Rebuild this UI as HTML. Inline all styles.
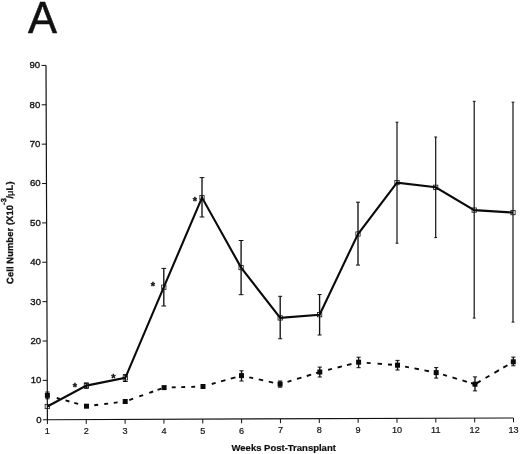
<!DOCTYPE html>
<html><head><meta charset="utf-8"><title>A</title>
<style>html,body{margin:0;padding:0;background:#fff}body{width:520px;height:454px;overflow:hidden;position:relative}</style>
</head><body>
<svg width="520" height="454" viewBox="0 0 520 454" style="position:absolute;left:0;top:0">
<g stroke="#111" fill="none" stroke-linecap="butt">
<path d="M46.00 65.40 L47.40 419.75 L513.50 418.00" stroke-width="1.2" stroke-linejoin="miter"/>
<path d="M42.90 419.77 L47.40 419.75" stroke-width="1"/>
<path d="M42.74 380.40 L47.24 380.38" stroke-width="1"/>
<path d="M42.59 341.03 L47.09 341.01" stroke-width="1"/>
<path d="M42.43 301.65 L46.93 301.63" stroke-width="1"/>
<path d="M42.28 262.28 L46.78 262.26" stroke-width="1"/>
<path d="M42.12 222.91 L46.62 222.89" stroke-width="1"/>
<path d="M41.97 183.54 L46.47 183.52" stroke-width="1"/>
<path d="M41.81 144.16 L46.31 144.14" stroke-width="1"/>
<path d="M41.66 104.79 L46.16 104.77" stroke-width="1"/>
<path d="M41.50 65.42 L46.00 65.40" stroke-width="1"/>
<path d="M47.40 419.75 L47.42 424.05" stroke-width="1"/>
<path d="M86.24 419.60 L86.26 423.90" stroke-width="1"/>
<path d="M125.08 419.46 L125.10 423.76" stroke-width="1"/>
<path d="M163.93 419.31 L163.95 423.61" stroke-width="1"/>
<path d="M202.77 419.17 L202.79 423.47" stroke-width="1"/>
<path d="M241.61 419.02 L241.63 423.32" stroke-width="1"/>
<path d="M280.45 418.88 L280.47 423.18" stroke-width="1"/>
<path d="M319.29 418.73 L319.31 423.03" stroke-width="1"/>
<path d="M358.13 418.58 L358.15 422.88" stroke-width="1"/>
<path d="M396.98 418.44 L397.00 422.74" stroke-width="1"/>
<path d="M435.82 418.29 L435.84 422.59" stroke-width="1"/>
<path d="M474.66 418.15 L474.68 422.45" stroke-width="1"/>
<path d="M513.50 418.00 L513.52 422.30" stroke-width="1"/>
</g>
<path d="M86.40 382.90 L86.40 388.30" stroke="#111" stroke-width="1.35" fill="none"/><path d="M84.00 382.90 L88.80 382.90 M84.00 388.30 L88.80 388.30" stroke="#111" stroke-width="1.0" fill="none"/>
<path d="M125.30 374.60 L125.30 381.50" stroke="#111" stroke-width="1.35" fill="none"/><path d="M122.90 374.60 L127.70 374.60 M122.90 381.50 L127.70 381.50" stroke="#111" stroke-width="1.0" fill="none"/>
<path d="M163.80 268.40 L163.80 306.00" stroke="#111" stroke-width="1.35" fill="none"/><path d="M161.40 268.40 L166.20 268.40 M161.40 306.00 L166.20 306.00" stroke="#111" stroke-width="1.0" fill="none"/>
<path d="M202.00 177.60 L202.00 217.00" stroke="#111" stroke-width="1.35" fill="none"/><path d="M199.60 177.60 L204.40 177.60 M199.60 217.00 L204.40 217.00" stroke="#111" stroke-width="1.0" fill="none"/>
<path d="M241.10 240.50 L241.10 294.70" stroke="#111" stroke-width="1.35" fill="none"/><path d="M238.70 240.50 L243.50 240.50 M238.70 294.70 L243.50 294.70" stroke="#111" stroke-width="1.0" fill="none"/>
<path d="M280.20 296.30 L280.20 338.80" stroke="#111" stroke-width="1.35" fill="none"/><path d="M278.20 296.30 L282.20 296.30 M278.20 338.80 L282.20 338.80" stroke="#111" stroke-width="1.0" fill="none"/>
<path d="M319.60 294.50 L319.60 335.00" stroke="#111" stroke-width="1.35" fill="none"/><path d="M317.60 294.50 L321.60 294.50 M317.60 335.00 L321.60 335.00" stroke="#111" stroke-width="1.0" fill="none"/>
<path d="M358.00 202.20 L358.00 265.10" stroke="#111" stroke-width="1.35" fill="none"/><path d="M356.00 202.20 L360.00 202.20 M356.00 265.10 L360.00 265.10" stroke="#111" stroke-width="1.0" fill="none"/>
<path d="M397.00 122.20 L397.00 243.20" stroke="#111" stroke-width="1.2" fill="none"/><path d="M395.60 122.20 L398.40 122.20 M395.60 243.20 L398.40 243.20" stroke="#111" stroke-width="1.0" fill="none"/>
<path d="M435.70 137.00 L435.70 237.60" stroke="#111" stroke-width="1.2" fill="none"/><path d="M434.30 137.00 L437.10 137.00 M434.30 237.60 L437.10 237.60" stroke="#111" stroke-width="1.0" fill="none"/>
<path d="M474.20 101.30 L474.20 318.10" stroke="#111" stroke-width="1.2" fill="none"/><path d="M472.80 101.30 L475.60 101.30 M472.80 318.10 L475.60 318.10" stroke="#111" stroke-width="1.0" fill="none"/>
<path d="M513.00 102.20 L513.00 322.10" stroke="#111" stroke-width="1.2" fill="none"/><path d="M511.60 102.20 L514.40 102.20 M511.60 322.10 L514.40 322.10" stroke="#111" stroke-width="1.0" fill="none"/>
<path d="M47.40 392.00 L47.40 398.80" stroke="#111" stroke-width="1.35" fill="none"/><path d="M45.30 392.00 L49.50 392.00 M45.30 398.80 L49.50 398.80" stroke="#111" stroke-width="1.0" fill="none"/>
<path d="M241.50 370.80 L241.50 381.00" stroke="#111" stroke-width="1.35" fill="none"/><path d="M239.40 370.80 L243.60 370.80 M239.40 381.00 L243.60 381.00" stroke="#111" stroke-width="1.0" fill="none"/>
<path d="M280.10 381.00 L280.10 387.20" stroke="#111" stroke-width="1.35" fill="none"/><path d="M278.00 381.00 L282.20 381.00 M278.00 387.20 L282.20 387.20" stroke="#111" stroke-width="1.0" fill="none"/>
<path d="M319.80 367.10 L319.80 377.00" stroke="#111" stroke-width="1.35" fill="none"/><path d="M317.70 367.10 L321.90 367.10 M317.70 377.00 L321.90 377.00" stroke="#111" stroke-width="1.0" fill="none"/>
<path d="M358.60 357.20 L358.60 367.70" stroke="#111" stroke-width="1.35" fill="none"/><path d="M356.50 357.20 L360.70 357.20 M356.50 367.70 L360.70 367.70" stroke="#111" stroke-width="1.0" fill="none"/>
<path d="M397.50 360.40 L397.50 370.00" stroke="#111" stroke-width="1.35" fill="none"/><path d="M395.40 360.40 L399.60 360.40 M395.40 370.00 L399.60 370.00" stroke="#111" stroke-width="1.0" fill="none"/>
<path d="M436.20 367.60 L436.20 378.10" stroke="#111" stroke-width="1.35" fill="none"/><path d="M434.10 367.60 L438.30 367.60 M434.10 378.10 L438.30 378.10" stroke="#111" stroke-width="1.0" fill="none"/>
<path d="M475.00 376.90 L475.00 390.90" stroke="#111" stroke-width="1.35" fill="none"/><path d="M472.90 376.90 L477.10 376.90 M472.90 390.90 L477.10 390.90" stroke="#111" stroke-width="1.0" fill="none"/>
<path d="M513.30 357.10 L513.30 365.80" stroke="#111" stroke-width="1.35" fill="none"/><path d="M511.20 357.10 L515.40 357.10 M511.20 365.80 L515.40 365.80" stroke="#111" stroke-width="1.0" fill="none"/>
<polyline fill="none" stroke="#0a0a0a" stroke-width="2.1" stroke-linejoin="miter" points="47.30,406.50 86.40,385.60 125.30,377.90 163.80,287.20 202.00,197.60 241.10,267.60 280.20,317.90 319.60,314.70 358.00,234.00 397.00,182.60 435.70,187.30 474.20,210.10 513.00,212.60"/>
<path fill="none" stroke="#0a0a0a" stroke-width="1.9" d="M56.75 397.98 L59.85 398.84 M65.55 400.41 L69.45 401.49 M74.25 402.82 L78.15 403.89 M94.25 405.26 L98.15 404.79 M104.25 404.04 L108.15 403.57 M113.75 402.89 L117.65 402.42 M129.25 400.05 L133.15 398.66 M139.25 396.48 L143.15 395.09 M149.25 392.91 L153.15 391.51 M157.55 389.94 L161.45 388.55 M171.75 387.38 L175.65 387.27 M181.25 387.12 L185.15 387.00 M191.25 386.83 L195.15 386.72 M211.75 384.02 L215.65 382.92 M221.05 381.39 L225.45 380.14 M230.75 378.64 L235.45 377.31 M249.25 377.31 L253.15 378.17 M258.75 379.40 L263.15 380.37 M268.75 381.60 L273.15 382.57 M287.55 381.83 L291.45 380.64 M296.95 378.96 L301.45 377.59 M306.75 375.98 L311.15 374.64 M316.05 373.14 L319.45 372.11 M328.05 369.92 L331.95 368.93 M337.55 367.52 L341.95 366.41 M346.95 365.14 L351.45 364.01 M366.75 362.83 L370.65 363.13 M377.55 363.66 L381.95 364.00 M388.05 364.47 L391.95 364.77 M405.05 366.64 L408.95 367.39 M414.45 368.44 L418.95 369.30 M424.45 370.35 L428.95 371.21 M443.05 374.65 L446.95 375.81 M452.45 377.46 L456.95 378.80 M462.45 380.45 L466.95 381.79 M471.05 383.02 L474.45 384.04 M475.55 383.88 L480.65 380.90 M485.55 378.03 L489.45 375.75 M494.45 372.82 L498.95 370.19 M503.25 367.68 L507.45 365.22"/>
<rect x="45.15" y="404.35" width="4.3" height="4.3" fill="none" stroke="#111" stroke-width="0.8"/>
<rect x="84.25" y="383.45" width="4.3" height="4.3" fill="none" stroke="#111" stroke-width="0.8"/>
<rect x="123.15" y="375.75" width="4.3" height="4.3" fill="none" stroke="#111" stroke-width="0.8"/>
<rect x="161.65" y="285.05" width="4.3" height="4.3" fill="none" stroke="#111" stroke-width="0.8"/>
<rect x="199.85" y="195.45" width="4.3" height="4.3" fill="none" stroke="#111" stroke-width="0.8"/>
<rect x="238.95" y="265.45" width="4.3" height="4.3" fill="none" stroke="#111" stroke-width="0.8"/>
<rect x="278.05" y="315.75" width="4.3" height="4.3" fill="none" stroke="#111" stroke-width="0.8"/>
<rect x="317.45" y="312.55" width="4.3" height="4.3" fill="none" stroke="#111" stroke-width="0.8"/>
<rect x="355.85" y="231.85" width="4.3" height="4.3" fill="none" stroke="#111" stroke-width="0.8"/>
<rect x="394.85" y="180.45" width="4.3" height="4.3" fill="none" stroke="#111" stroke-width="0.8"/>
<rect x="433.55" y="185.15" width="4.3" height="4.3" fill="none" stroke="#111" stroke-width="0.8"/>
<rect x="472.05" y="207.95" width="4.3" height="4.3" fill="none" stroke="#111" stroke-width="0.8"/>
<rect x="510.85" y="210.45" width="4.3" height="4.3" fill="none" stroke="#111" stroke-width="0.8"/>
<rect x="44.90" y="392.90" width="5.0" height="5.0" fill="#0a0a0a"/>
<rect x="84.00" y="403.70" width="5.0" height="5.0" fill="#0a0a0a"/>
<rect x="122.70" y="399.00" width="5.0" height="5.0" fill="#0a0a0a"/>
<rect x="161.60" y="385.10" width="5.0" height="5.0" fill="#0a0a0a"/>
<rect x="200.50" y="384.00" width="5.0" height="5.0" fill="#0a0a0a"/>
<rect x="239.00" y="373.10" width="5.0" height="5.0" fill="#0a0a0a"/>
<rect x="277.60" y="381.60" width="5.0" height="5.0" fill="#0a0a0a"/>
<rect x="317.30" y="369.50" width="5.0" height="5.0" fill="#0a0a0a"/>
<rect x="356.10" y="359.70" width="5.0" height="5.0" fill="#0a0a0a"/>
<rect x="395.00" y="362.70" width="5.0" height="5.0" fill="#0a0a0a"/>
<rect x="433.70" y="370.10" width="5.0" height="5.0" fill="#0a0a0a"/>
<rect x="472.50" y="381.70" width="5.0" height="5.0" fill="#0a0a0a"/>
<rect x="510.80" y="359.30" width="5.0" height="5.0" fill="#0a0a0a"/>
<g font-family="Liberation Sans, Arial, Helvetica, sans-serif" fill="#111">
<text x="27.9" y="33.2" font-size="43.5" stroke="#111" stroke-width="0.5">A</text>
<text x="41.50" y="422.65" font-size="9.6" text-anchor="end" stroke="#111" stroke-width="0.35">0</text>
<text x="41.34" y="383.28" font-size="9.6" text-anchor="end" stroke="#111" stroke-width="0.35">10</text>
<text x="41.19" y="343.91" font-size="9.6" text-anchor="end" stroke="#111" stroke-width="0.35">20</text>
<text x="41.03" y="304.53" font-size="9.6" text-anchor="end" stroke="#111" stroke-width="0.35">30</text>
<text x="40.88" y="265.16" font-size="9.6" text-anchor="end" stroke="#111" stroke-width="0.35">40</text>
<text x="40.72" y="225.79" font-size="9.6" text-anchor="end" stroke="#111" stroke-width="0.35">50</text>
<text x="40.57" y="186.42" font-size="9.6" text-anchor="end" stroke="#111" stroke-width="0.35">60</text>
<text x="40.41" y="147.04" font-size="9.6" text-anchor="end" stroke="#111" stroke-width="0.35">70</text>
<text x="40.26" y="107.67" font-size="9.6" text-anchor="end" stroke="#111" stroke-width="0.35">80</text>
<text x="40.10" y="68.30" font-size="9.6" text-anchor="end" stroke="#111" stroke-width="0.35">90</text>
<text x="47.40" y="434.35" font-size="9.1" text-anchor="middle" stroke="#111" stroke-width="0.2">1</text>
<text x="86.24" y="434.20" font-size="9.1" text-anchor="middle" stroke="#111" stroke-width="0.2">2</text>
<text x="125.08" y="434.06" font-size="9.1" text-anchor="middle" stroke="#111" stroke-width="0.2">3</text>
<text x="163.93" y="433.91" font-size="9.1" text-anchor="middle" stroke="#111" stroke-width="0.2">4</text>
<text x="202.77" y="433.77" font-size="9.1" text-anchor="middle" stroke="#111" stroke-width="0.2">5</text>
<text x="241.61" y="433.62" font-size="9.1" text-anchor="middle" stroke="#111" stroke-width="0.2">6</text>
<text x="280.45" y="433.48" font-size="9.1" text-anchor="middle" stroke="#111" stroke-width="0.2">7</text>
<text x="319.29" y="433.33" font-size="9.1" text-anchor="middle" stroke="#111" stroke-width="0.2">8</text>
<text x="358.13" y="433.18" font-size="9.1" text-anchor="middle" stroke="#111" stroke-width="0.2">9</text>
<text x="396.98" y="433.04" font-size="9.1" text-anchor="middle" stroke="#111" stroke-width="0.2">10</text>
<text x="435.82" y="432.89" font-size="9.1" text-anchor="middle" stroke="#111" stroke-width="0.2">11</text>
<text x="474.66" y="432.75" font-size="9.1" text-anchor="middle" stroke="#111" stroke-width="0.2">12</text>
<text x="513.50" y="432.60" font-size="9.1" text-anchor="middle" stroke="#111" stroke-width="0.2">13</text>
<text x="283.7" y="450.8" font-size="9.5" font-weight="bold" text-anchor="middle" stroke="#111" stroke-width="0.2">Weeks Post-Transplant</text>
<text transform="translate(13.2 283.9) rotate(-90.2)" font-size="9.3" font-weight="bold" stroke="#111" stroke-width="0.3" letter-spacing="0.12">Cell Number (X10<tspan dy="-6.6" font-size="7.6">-3</tspan><tspan dy="6.6" dx="-0.6">/</tspan><tspan font-weight="normal">μ</tspan>L)</text>
<text x="75.00" y="391.20" font-size="11" font-weight="bold" text-anchor="middle" stroke="#111" stroke-width="0.35">*</text>
<text x="113.30" y="381.90" font-size="11" font-weight="bold" text-anchor="middle" stroke="#111" stroke-width="0.35">*</text>
<text x="153.00" y="290.30" font-size="11" font-weight="bold" text-anchor="middle" stroke="#111" stroke-width="0.35">*</text>
<text x="194.90" y="204.90" font-size="11" font-weight="bold" text-anchor="middle" stroke="#111" stroke-width="0.35">*</text>
</g>
</svg>
</body></html>
